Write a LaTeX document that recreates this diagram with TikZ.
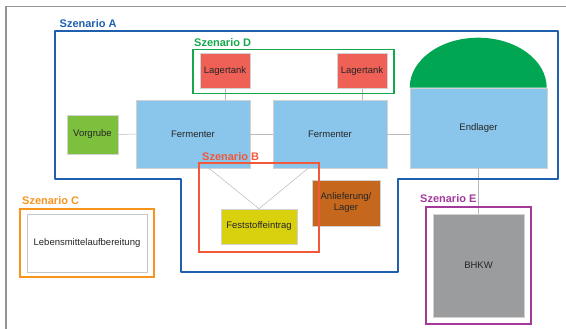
\documentclass[tikz,border=0pt]{standalone}
\usepackage{fontspec}
\setmainfont{Liberation Sans}
\usepackage{tkz-euclide}
\definecolor{szblue}{HTML}{1E5FAE}
\definecolor{szgreen}{HTML}{14A84B}
\definecolor{szred}{HTML}{F2583A}
\definecolor{szorange}{HTML}{F7941D}
\definecolor{szpurple}{HTML}{A3399B}
\definecolor{fermblue}{HTML}{8AC5EB}
\definecolor{tankred}{HTML}{EF6057}
\definecolor{domegreen}{HTML}{00A651}
\definecolor{vorgreen}{HTML}{7CC03D}
\definecolor{feststoffyellow}{HTML}{D9D00E}
\definecolor{lagerbrown}{HTML}{C5681D}
\definecolor{bhkwgray}{HTML}{9A9C9E}

\begin{document}
\begin{tikzpicture}[x=1pt,y=-1pt,
  box/.style={draw=gray!35, line width=0.6pt, inner sep=0pt, align=center,
    font=\fontsize{9.5}{11}\selectfont, text=black!85},
  scen/.style={anchor=west, inner sep=0pt, font=\bfseries\fontsize{11}{13}\selectfont},
  link/.style={gray!55, line width=0.5pt},
  frame/.style={line width=1.5pt}]
\useasboundingbox (0,0) rectangle (566,329);
\draw[gray!85, line width=1.4pt] (6,340) |- (580,6.5);

\node[box, fill=tankred, minimum width=50, minimum height=35] (lt1) at (225,71.3) {Lagertank};
\node[box, fill=tankred, minimum width=50, minimum height=35] (lt2) at (362,71.3) {Lagertank};
\node[box, fill=fermblue, minimum width=114, minimum height=68] (ferm1) at (193,134) {Fermenter};
\node[box, fill=fermblue, minimum width=114, minimum height=68] (ferm2) at (330,134) {Fermenter};
\node[box, fill=vorgreen, minimum width=51, minimum height=39] (vorgrube) at (92.5,134.5) {Vorgrube};
\node[box, fill=fermblue, minimum width=137, minimum height=80] (endlager) at (478.5,128) {Endlager};
\fill[domegreen] (endlager.north west) arc[start angle=180, end angle=0, x radius=68.5pt, y radius=50pt] -- cycle;
\node[box, fill=feststoffyellow, minimum width=76, minimum height=35] (feststoff) at (259,226.5) {Feststoffeintrag};
\node[box, fill=lagerbrown, minimum width=68, minimum height=46] (anlieferung) at (346,203) {Anlieferung/\\Lager};
\node[box, fill=white, draw=gray!45, line width=0.8pt, minimum width=120, minimum height=58] (lebensmittel) at (87,243) {Lebensmittelaufbereitung};
\node[box, fill=bhkwgray, minimum width=91, minimum height=103] (bhkw) at (478.5,265.5) {BHKW};

\draw[link] (lt1.south) -- (lt1.south |- ferm1.north);
\draw[link] (lt2.south) -- (lt2.south |- ferm2.north);
\draw[link] (vorgrube.east) -- (ferm1.west);
\draw[link] (ferm1.east) -- (ferm2.west);
\draw[link] (ferm2.east) -- (ferm2.east -| endlager.west);
\draw[link] (endlager.south) -- (bhkw.north);
\draw[link] ([xshift=16pt]ferm1.south) -- (feststoff.north);
\draw[link] ([xshift=-22pt]ferm2.south) -- (feststoff.north);

\tkzDefPoints{55/31/A1, 558/31/A2, 558/179/A3, 398/179/A4, 398/272/A5, 181/272/A6, 181/179/A7, 55/179/A8}
\tkzDrawPolygon[szblue, frame](A1,A2,A3,A4,A5,A6,A7,A8)
\draw[szgreen, frame] (193,49.3) rectangle (394,93.7);
\draw[szred, frame] (199,163) rectangle (319,252);
\draw[szorange, frame] (20,209) rectangle (154,277);
\draw[szpurple, frame] (426,207) rectangle (531,324);

\node[scen, szblue] (labA) at (59.5,24) {Szenario A};
\node[scen, szgreen] (labD) at (194,42.3) {Szenario D};
\node[scen, szred] (labB) at (202,157) {Szenario B};
\node[scen, szorange] (labC) at (22,201) {Szenario C};
\node[scen, szpurple] (labE) at (420,199) {Szenario E};
\end{tikzpicture}
\end{document}
